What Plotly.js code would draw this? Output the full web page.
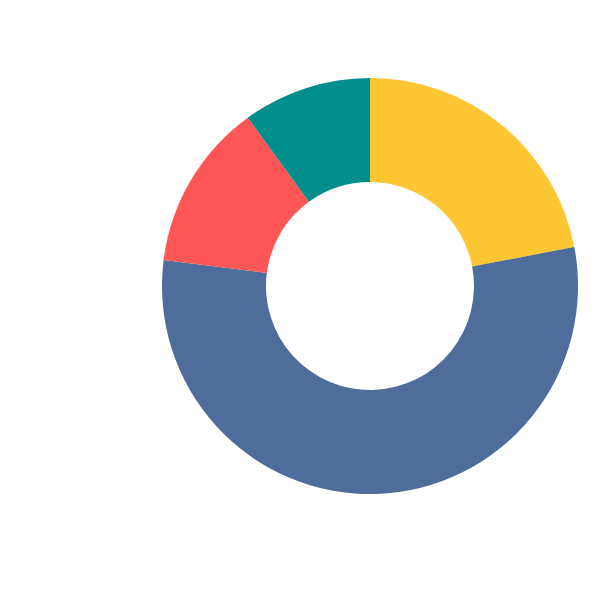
<!DOCTYPE html>
<html><head><meta charset="utf-8">
<script src="https://cdn.plot.ly/plotly-3.0.1.min.js"></script>
<style>html,body{margin:0;padding:0;background:#fff}</style>
</head><body>
<div id="chart" style="width:600px;height:600px"></div>
<script>
const labels = ["A", "B", "C", "D"];
const values = [22, 55, 13, 10];
const colors = ["#FCC733", "#4F6D9A", "#FE5656", "#028E8A"];

Plotly.newPlot("chart", [{
  type: "pie",
  labels: labels,
  values: values,
  hole: 0.5,
  sort: false,
  direction: "clockwise",
  rotation: 0,
  textinfo: "none",
  hoverinfo: "label+value",
  marker: {colors: colors, line: {width: 0}}
}], {
  width: 600, height: 600,
  showlegend: false,
  margin: {l: 162, r: 22, t: 78, b: 106},
  paper_bgcolor: "#ffffff",
  plot_bgcolor: "#ffffff"
}, {displayModeBar: false});
</script>
</body></html>
